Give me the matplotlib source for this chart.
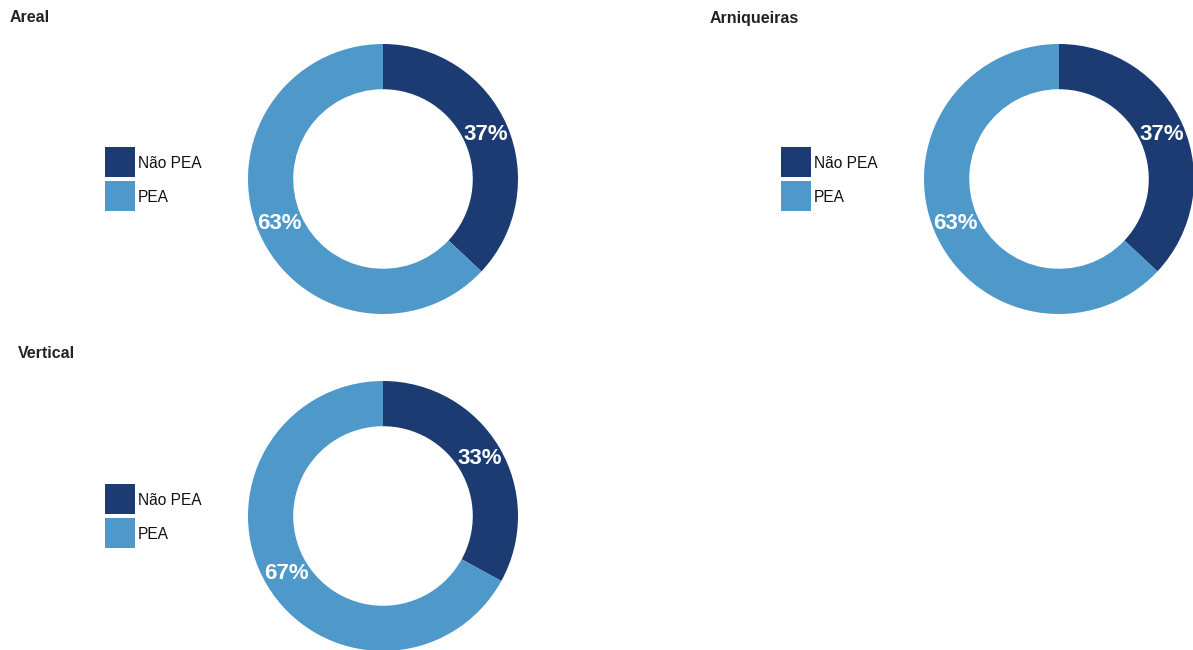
import matplotlib
matplotlib.use('Agg')
import matplotlib.pyplot as plt
from matplotlib.patches import Rectangle
import numpy as np

plt.rcParams['font.family'] = ['Liberation Sans', 'DejaVu Sans']

# Share of the population in and out of the labour force, per region
REGIONS = ['Areal', 'Arniqueiras', 'Vertical']
CATEGORIES = ['Não PEA', 'PEA']
NAO_PEA = [37, 37, 33]
PEA = [63, 63, 67]

COLORS = ['#1b3b72', '#4f98ca']

W, H = 1193, 650

# Pixel layout: donut centre, title anchor, legend top-left
CENTERS = [(383, 179), (1059, 179), (383, 516)]
TITLE_POS = [(10, 18), (710, 18), (18, 353)]
LEGEND_POS = [(105, 147), (781, 147), (105, 484)]
RADIUS_PX = 135
HOLE = 0.665
SWATCH = 30
SWATCH_STEP = 34


def px_box(cx, cy, r):
    """Axes rectangle (figure fraction) for a square of half-size r around a pixel centre."""
    return [(cx - r) / W, (H - cy - r) / H, 2 * r / W, 2 * r / H]


fig = plt.figure(figsize=(W / 100, H / 100), dpi=100)
fig.patch.set_facecolor('white')

for i, region in enumerate(REGIONS):
    cx, cy = CENTERS[i]
    ax = fig.add_axes(px_box(cx, cy, RADIUS_PX))
    values = [NAO_PEA[i], PEA[i]]
    wedges, _ = ax.pie(values, colors=COLORS, startangle=90, counterclock=False,
                       radius=1.0, wedgeprops=dict(width=1 - HOLE, linewidth=0))
    ax.set_xlim(-1, 1)
    ax.set_ylim(-1, 1)
    ax.set_aspect('equal')
    ax.axis('off')

    # percentage labels at the middle of each ring segment
    r_mid = (1 + HOLE) / 2
    for w, v in zip(wedges, values):
        ang = np.deg2rad((w.theta1 + w.theta2) / 2)
        ax.text(r_mid * np.cos(ang), r_mid * np.sin(ang), f'{v}%',
                ha='center', va='center', color='white',
                fontsize=16, fontweight='bold')

    tx, ty = TITLE_POS[i]
    fig.text(tx / W, 1 - ty / H, region, ha='left', va='center',
             fontsize=11.5, fontweight='bold', color='#222222')

    # legend: square swatches with labels to the right
    lx, ly = LEGEND_POS[i]
    for k, (cat, col) in enumerate(zip(CATEGORIES, COLORS)):
        top = ly + k * SWATCH_STEP
        fig.patches.append(Rectangle((lx / W, 1 - (top + SWATCH) / H),
                                     SWATCH / W, SWATCH / H,
                                     transform=fig.transFigure,
                                     facecolor=col, edgecolor='none'))
        fig.text((lx + SWATCH + 3) / W, 1 - (top + SWATCH / 2 + 1.5) / H, cat,
                 ha='left', va='center', fontsize=11.2, color='#111111')

fig.savefig('out.png', dpi=100, facecolor='white')
